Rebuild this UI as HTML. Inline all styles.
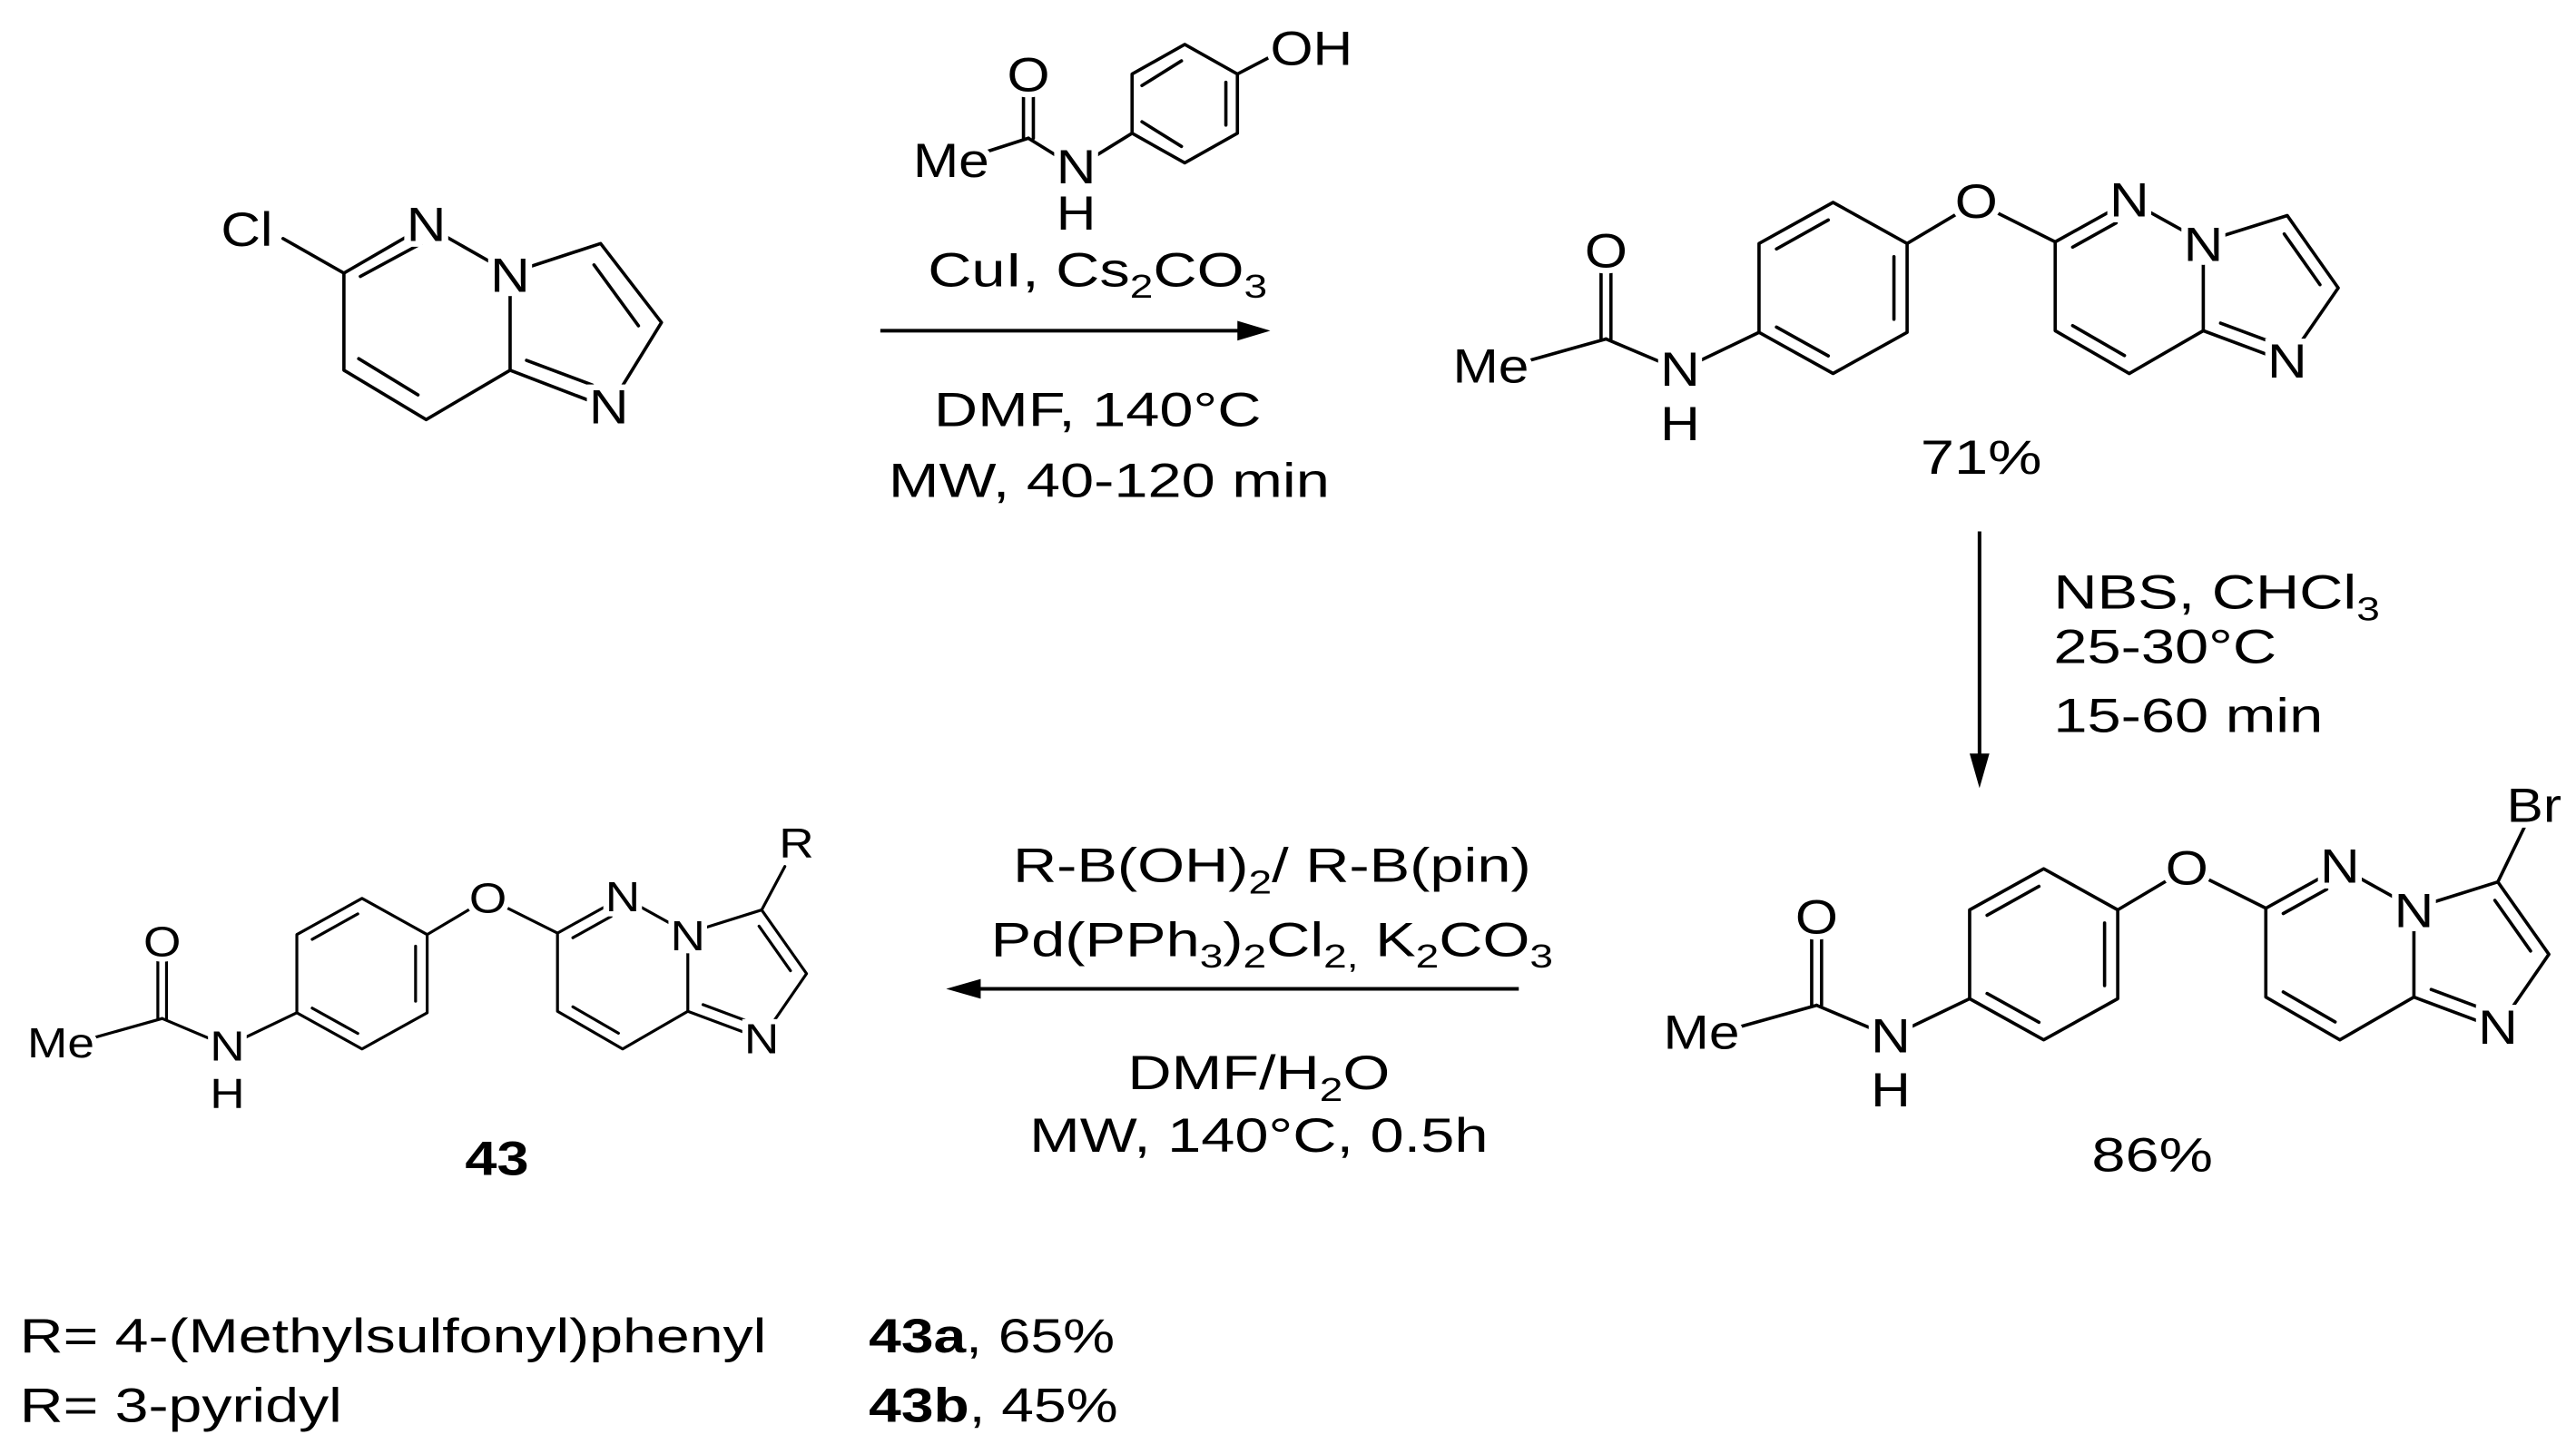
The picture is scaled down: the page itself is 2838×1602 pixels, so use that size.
<!DOCTYPE html>
<html><head><meta charset="utf-8"><style>
html,body{margin:0;padding:0;background:#fff;}
svg{display:block}
text{font-family:"Liberation Sans",Arial,sans-serif;fill:#000}
.a{text-anchor:middle;dominant-baseline:central;stroke:#fff;stroke-width:7px;paint-order:stroke;font-size:29px}
.b{fill:none;stroke:#000;stroke-width:2;stroke-linecap:round;stroke-linejoin:round}
.t{font-size:29px}
.w{fill:#fff;stroke:none}
</style></head><body>
<svg width="2838" height="1602" viewBox="0 0 1565.5 883.7" preserveAspectRatio="none">
<!-- Starting material -->
<g class="b">
<polyline points="172,145 209,166 259,137 310,166 310,225 259,255 209,225 209,166"/>
<polyline points="310,166 365,148 402,196 370,248 310,225"/>
<line x1="215" y1="160" x2="252" y2="140" transform="translate(4,8)"/>
<line x1="218" y1="218" x2="254" y2="240"/>
<line x1="320" y1="219" x2="360" y2="234"/>
<line x1="361" y1="161" x2="388" y2="198"/>
</g>
<circle class="w" cx="259" cy="137" r="12"/><circle class="w" cx="310" cy="168" r="12"/><circle class="w" cx="370" cy="248" r="12"/>
<text class="a" transform="translate(150,140) scale(1.15,1)">Cl</text>
<text class="a" transform="translate(259,137) scale(1.15,1)">N</text>
<text class="a" transform="translate(310,168) scale(1.15,1)">N</text>
<text class="a" transform="translate(370,248) scale(1.15,1)">N</text>

<!-- Reagent -->
<g class="b">
<line x1="597" y1="93" x2="625" y2="84"/>
<line x1="625" y1="84" x2="654" y2="102"/>
<line x1="622" y1="84" x2="622" y2="52"/>
<line x1="628" y1="84" x2="628" y2="52"/>
<line x1="654" y1="102" x2="688" y2="81"/>
<polygon points="688,45 720,27 752,45 752,81 720,99 688,81"/>
<line x1="694" y1="52" x2="718" y2="37"/>
<line x1="745" y1="50" x2="745" y2="76"/>
<line x1="694" y1="74" x2="718" y2="89"/>
<line x1="752" y1="45" x2="775" y2="33"/>
</g>
<circle class="w" cx="654" cy="102" r="12"/>
<text class="a" transform="translate(578,98) scale(1.15,1)">Me</text>
<text class="a" transform="translate(625,46) scale(1.15,1)">O</text>
<text class="a" transform="translate(654,102) scale(1.15,1)">N</text>
<text class="a" transform="translate(654,130) scale(1.15,1)">H</text>
<text class="a" transform="translate(797,30) scale(1.15,1)">OH</text>

<!-- Arrow 1 -->
<line x1="535" y1="201" x2="755" y2="201" stroke="#000" stroke-width="2.2"/>
<polygon points="772,201 752,195 752,207" fill="#000"/>
<text class="t" text-anchor="middle" transform="translate(667,174) scale(1.27,1)">CuI, Cs<tspan font-size="20" dy="7">2</tspan><tspan dy="-7">CO</tspan><tspan font-size="20" dy="7">3</tspan></text>
<text class="t" text-anchor="middle" transform="translate(667,259) scale(1.27,1)">DMF, 140°C</text>
<text class="t" text-anchor="middle" transform="translate(674,302) scale(1.27,1)">MW, 40-120 min</text>

<!-- Product 71% -->
<g transform="translate(1114,123)">
<g class="b">
<polygon points="0,0 45,25 45,79 0,104 -45,79 -45,25"/>
<line x1="-2.9" y1="10.7" x2="-34.4" y2="28.3"/><line x1="37" y1="33" x2="37" y2="71"/><line x1="-34.4" y1="75.8" x2="-2.9" y2="93.3"/>
<polyline points="45,25 87,0 135,24 180,-1 225,24 225,78 180,104 135,78 135,24"/>
<polyline points="225,24 276,8 307,52 276,97 225,78"/>
<line x1="145.6" y1="27.2" x2="172" y2="12.5"/><line x1="145.6" y1="74.9" x2="177.1" y2="93.1"/>
<line x1="274.2" y1="19.2" x2="295.9" y2="50"/><line x1="235.5" y1="73.4" x2="268" y2="85.5"/>
<line x1="-45" y1="79" x2="-93" y2="102"/><line x1="-93" y1="102" x2="-138" y2="83"/><line x1="-138" y1="83" x2="-188" y2="97"/>
<line x1="-141" y1="83" x2="-141" y2="40"/><line x1="-135" y1="83" x2="-135" y2="40"/>
</g>
<circle class="w" cx="87" cy="0" r="13"/><circle class="w" cx="180" cy="-1" r="12"/><circle class="w" cx="225" cy="26" r="12"/><circle class="w" cx="276" cy="97" r="12"/><circle class="w" cx="-93" cy="102" r="12"/>
<text class="a" transform="translate(87,0) scale(1.15,1)">O</text><text class="a" transform="translate(180,-1) scale(1.15,1)">N</text><text class="a" transform="translate(225,26) scale(1.15,1)">N</text><text class="a" transform="translate(276,97) scale(1.15,1)">N</text>
<text class="a" transform="translate(-93,102) scale(1.15,1)">N</text><text class="a" transform="translate(-93,135) scale(1.15,1)">H</text><text class="a" transform="translate(-138,30) scale(1.15,1)">O</text><text class="a" transform="translate(-208,100) scale(1.15,1)">Me</text>
</g>
<text class="t" text-anchor="middle" transform="translate(1204,288) scale(1.27,1)">71%</text>

<!-- Arrow 2 -->
<line x1="1203" y1="323" x2="1203" y2="462" stroke="#000" stroke-width="2.2"/>
<polygon points="1203,479 1197,458 1209,458" fill="#000"/>
<text class="t" transform="translate(1248,370) scale(1.27,1)">NBS, CHCl<tspan font-size="20" dy="7">3</tspan></text>
<text class="t" transform="translate(1248,403) scale(1.27,1)">25-30°C</text>
<text class="t" transform="translate(1248,445) scale(1.27,1)">15-60 min</text>

<g transform="translate(1242,528)">
<g class="b">
<polygon points="0,0 45,25 45,79 0,104 -45,79 -45,25"/>
<line x1="-2.9" y1="10.7" x2="-34.4" y2="28.3"/><line x1="37" y1="33" x2="37" y2="71"/><line x1="-34.4" y1="75.8" x2="-2.9" y2="93.3"/>
<polyline points="45,25 87,0 135,24 180,-1 225,24 225,78 180,104 135,78 135,24"/>
<polyline points="225,24 276,8 307,52 276,97 225,78"/>
<line x1="145.6" y1="27.2" x2="172" y2="12.5"/><line x1="145.6" y1="74.9" x2="177.1" y2="93.1"/>
<line x1="274.2" y1="19.2" x2="295.9" y2="50"/><line x1="235.5" y1="73.4" x2="268" y2="85.5"/>
<line x1="-45" y1="79" x2="-93" y2="102"/><line x1="-93" y1="102" x2="-138" y2="83"/><line x1="-138" y1="83" x2="-188" y2="97"/>
<line x1="-141" y1="83" x2="-141" y2="40"/><line x1="-135" y1="83" x2="-135" y2="40"/>
<line x1="276" y1="8" x2="292" y2="-25"/>
</g>
<circle class="w" cx="87" cy="0" r="13"/><circle class="w" cx="180" cy="-1" r="12"/><circle class="w" cx="225" cy="26" r="12"/><circle class="w" cx="276" cy="97" r="12"/><circle class="w" cx="-93" cy="102" r="12"/>
<text class="a" transform="translate(87,0) scale(1.15,1)">O</text><text class="a" transform="translate(180,-1) scale(1.15,1)">N</text><text class="a" transform="translate(225,26) scale(1.15,1)">N</text><text class="a" transform="translate(276,97) scale(1.15,1)">N</text>
<text class="a" transform="translate(-93,102) scale(1.15,1)">N</text><text class="a" transform="translate(-93,135) scale(1.15,1)">H</text><text class="a" transform="translate(-138,30) scale(1.15,1)">O</text><text class="a" transform="translate(-208,100) scale(1.15,1)">Me</text>
<text class="a" transform="translate(298,-38) scale(1.15,1)">Br</text>
</g>
<text class="t" text-anchor="middle" transform="translate(1308,712) scale(1.27,1)">86%</text>

<!-- Arrow 3 -->
<line x1="923" y1="601" x2="592" y2="601" stroke="#000" stroke-width="2.2"/>
<polygon points="575,601 596,595 596,607" fill="#000"/>
<text class="t" text-anchor="middle" transform="translate(773,536) scale(1.27,1)">R-B(OH)<tspan font-size="20" dy="7">2</tspan><tspan dy="-7">/ R-B(pin)</tspan></text>
<text class="t" text-anchor="middle" transform="translate(773,581) scale(1.27,1)">Pd(PPh<tspan font-size="20" dy="7">3</tspan><tspan dy="-7">)</tspan><tspan font-size="20" dy="7">2</tspan><tspan dy="-7">Cl</tspan><tspan font-size="20" dy="7">2,</tspan><tspan dy="-7"> K</tspan><tspan font-size="20" dy="7">2</tspan><tspan dy="-7">CO</tspan><tspan font-size="20" dy="7">3</tspan></text>
<text class="t" text-anchor="middle" transform="translate(765,662) scale(1.27,1)">DMF/H<tspan font-size="20" dy="7">2</tspan><tspan dy="-7">O</tspan></text>
<text class="t" text-anchor="middle" transform="translate(765,700) scale(1.27,1)">MW, 140°C, 0.5h</text>

<g transform="translate(220,546) scale(0.88)">
<g class="b">
<polygon points="0,0 45,25 45,79 0,104 -45,79 -45,25"/>
<line x1="-2.9" y1="10.7" x2="-34.4" y2="28.3"/><line x1="37" y1="33" x2="37" y2="71"/><line x1="-34.4" y1="75.8" x2="-2.9" y2="93.3"/>
<polyline points="45,25 87,0 135,24 180,-1 225,24 225,78 180,104 135,78 135,24"/>
<polyline points="225,24 276,8 307,52 276,97 225,78"/>
<line x1="145.6" y1="27.2" x2="172" y2="12.5"/><line x1="145.6" y1="74.9" x2="177.1" y2="93.1"/>
<line x1="274.2" y1="19.2" x2="295.9" y2="50"/><line x1="235.5" y1="73.4" x2="268" y2="85.5"/>
<line x1="-45" y1="79" x2="-93" y2="102"/><line x1="-93" y1="102" x2="-138" y2="83"/><line x1="-138" y1="83" x2="-188" y2="97"/>
<line x1="-141" y1="83" x2="-141" y2="40"/><line x1="-135" y1="83" x2="-135" y2="40"/>
<line x1="276" y1="8" x2="292" y2="-22"/>
</g>
<circle class="w" cx="87" cy="0" r="13"/><circle class="w" cx="180" cy="-1" r="12"/><circle class="w" cx="225" cy="26" r="12"/><circle class="w" cx="276" cy="97" r="12"/><circle class="w" cx="-93" cy="102" r="12"/>
<text class="a" transform="translate(87,0) scale(1.15,1)">O</text><text class="a" transform="translate(180,-1) scale(1.15,1)">N</text><text class="a" transform="translate(225,26) scale(1.15,1)">N</text><text class="a" transform="translate(276,97) scale(1.15,1)">N</text>
<text class="a" transform="translate(-93,102) scale(1.15,1)">N</text><text class="a" transform="translate(-93,135) scale(1.15,1)">H</text><text class="a" transform="translate(-138,30) scale(1.15,1)">O</text><text class="a" transform="translate(-208,100) scale(1.15,1)">Me</text>
<text class="a" transform="translate(300,-38) scale(1.15,1)">R</text>
</g>
<text class="t" text-anchor="middle" font-weight="bold" transform="translate(302,714) scale(1.2,1)">43</text>

<text class="t" transform="translate(12,822) scale(1.26,1)">R= 4-(Methylsulfonyl)phenyl</text>
<text class="t" transform="translate(12,864) scale(1.26,1)">R= 3-pyridyl</text>
<text class="t" transform="translate(528,822) scale(1.22,1)"><tspan font-weight="bold">43a</tspan>, 65%</text>
<text class="t" transform="translate(528,864) scale(1.22,1)"><tspan font-weight="bold">43b</tspan>, 45%</text>
</svg>
</body></html>
